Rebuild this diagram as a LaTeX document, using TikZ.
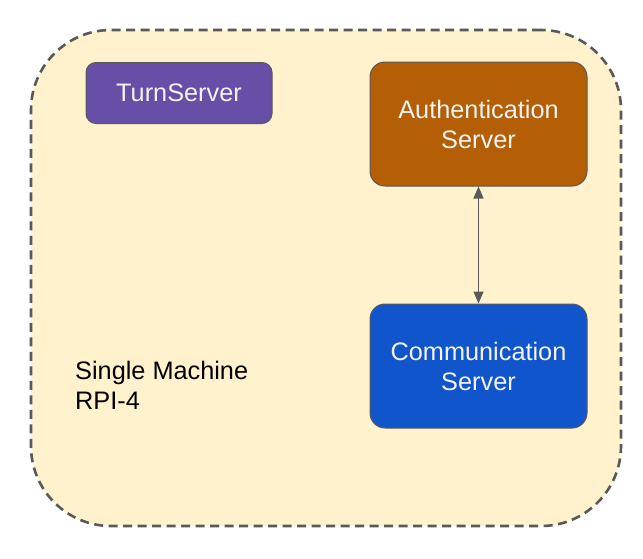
\documentclass[tikz,border=0pt]{standalone}
\usepackage{fontspec}
\setmainfont{Liberation Sans}
\usetikzlibrary{arrows.meta}
\definecolor{bgfill}{HTML}{FFF2CC}
\definecolor{edgegray}{HTML}{595959}
\definecolor{turnpurple}{HTML}{674EA7}
\definecolor{authbrown}{HTML}{B45F06}
\definecolor{commblue}{HTML}{1155CC}
\definecolor{labelwhite}{HTML}{F3F3F3}
\tikzset{
  machinebox/.style={draw=edgegray, fill=bgfill, line width=2.6pt, dash pattern=on 9pt off 5.5pt, rounded corners=80pt, minimum width=590pt, minimum height=496pt, inner sep=0pt},
  serverbox/.style={draw=edgegray, line width=1pt, rounded corners=15pt, text=labelwhite, align=center, inner sep=0pt, font=\fontsize{25.3}{30}\selectfont},
  plainlabel/.style={align=left, inner sep=0pt, font=\fontsize{25.3}{30}\selectfont, text=black},
  link/.style={draw=edgegray, line width=1.3pt, {Triangle[length=12pt,width=10pt]}-{Triangle[length=12pt,width=10pt]}}
}
\begin{document}
\begin{tikzpicture}[x=1pt,y=-1pt]
\useasboundingbox (0,0) rectangle (643,558);
\node[machinebox] (machine) at (326,278) {};
\node[serverbox, fill=turnpurple, minimum width=186pt, minimum height=61pt, rounded corners=10pt] (turn) at (179,93) {TurnServer};
\node[serverbox, fill=authbrown, minimum width=217pt, minimum height=124pt] (auth) at (478.5,124) {Authentication\\Server};
\node[serverbox, fill=commblue, minimum width=217pt, minimum height=124pt] (comm) at (478.5,366) {Communication\\Server};
\node[plainlabel, anchor=west] (label) at (75,385) {Single Machine\\RPI-4};
\draw[link] (auth.south) -- (comm.north);
\end{tikzpicture}
\end{document}
